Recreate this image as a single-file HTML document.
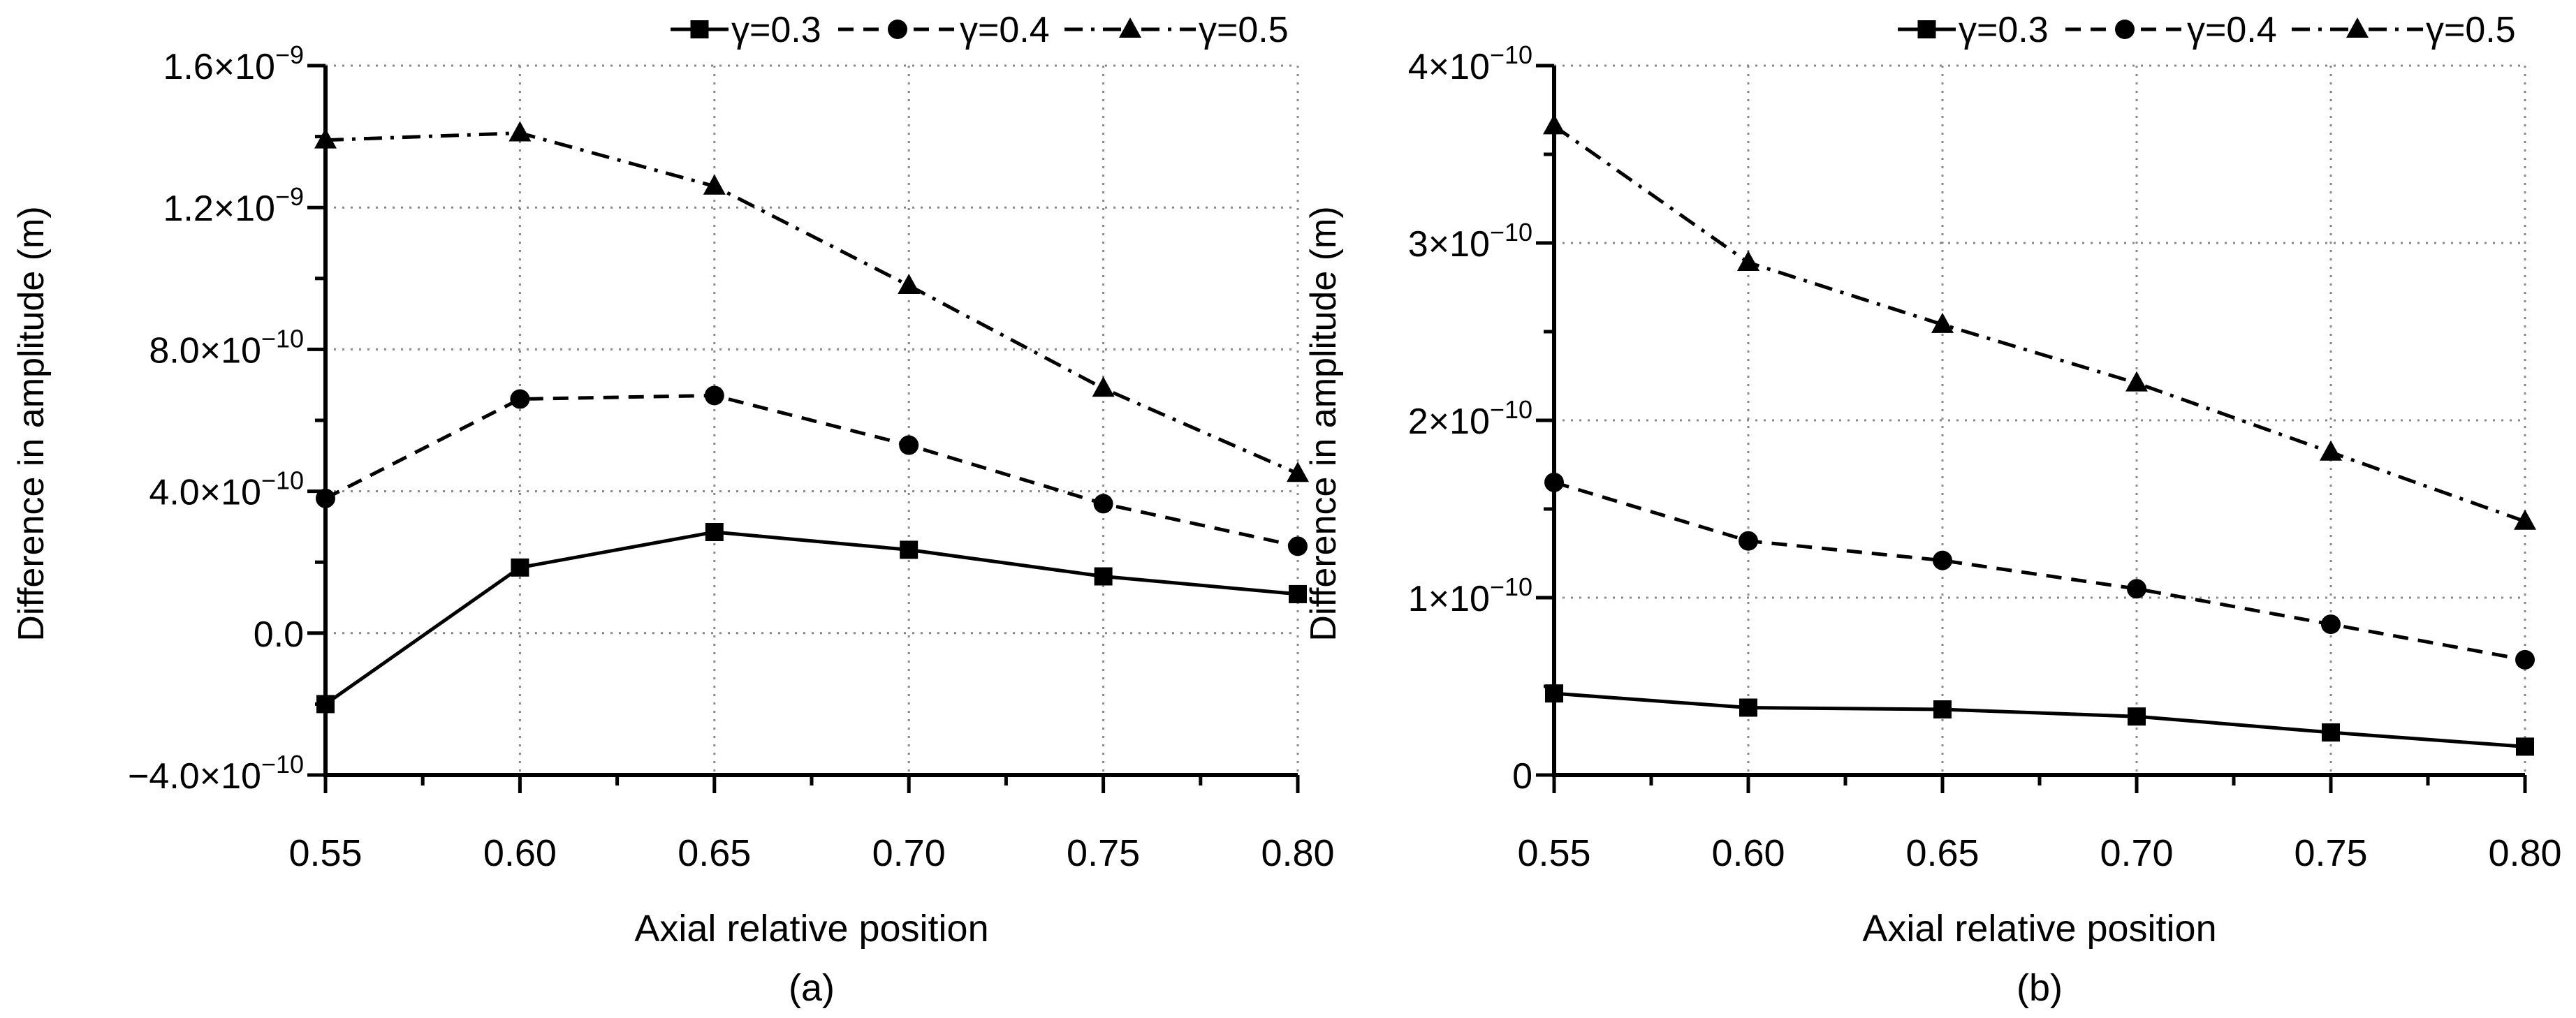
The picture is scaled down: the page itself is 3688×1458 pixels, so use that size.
<!DOCTYPE html>
<html><head><meta charset="utf-8"><style>
body{margin:0;background:#fff}
svg{display:block;font-family:"Liberation Sans",Arial,sans-serif}
</style></head><body>
<svg id="c" width="3688" height="1458" viewBox="0 0 3688 1458" xmlns="http://www.w3.org/2000/svg"></svg>
<script>
const categories=[0.55,0.60,0.65,0.70,0.75,0.80];
const xTickLabels=["0.55","0.60","0.65","0.70","0.75","0.80"];
const seriesNames=["γ=0.3","γ=0.4","γ=0.5"];
const aG03=[-2.0e-10,1.85e-10,2.85e-10,2.35e-10,1.6e-10,1.1e-10];
const aG04=[3.8e-10,6.6e-10,6.7e-10,5.3e-10,3.65e-10,2.45e-10];
const aG05=[1.39e-9,1.41e-9,1.26e-9,0.98e-9,0.69e-9,0.45e-9];
const bG03=[0.46e-10,0.38e-10,0.37e-10,0.33e-10,0.24e-10,0.16e-10];
const bG04=[1.65e-10,1.32e-10,1.21e-10,1.05e-10,0.85e-10,0.65e-10];
const bG05=[3.66e-10,2.89e-10,2.54e-10,2.21e-10,1.82e-10,1.43e-10];
const aYTicks=[-4e-10,0,4e-10,8e-10,1.2e-9,1.6e-9];
const aYLabels=[["−4.0×10","−10"],["0.0",""],["4.0×10","−10"],["8.0×10","−10"],["1.2×10","−9"],["1.6×10","−9"]];
const bYTicks=[0,1e-10,2e-10,3e-10,4e-10];
const bYLabels=[["0",""],["1×10","−10"],["2×10","−10"],["3×10","−10"],["4×10","−10"]];

const svg=document.getElementById('c');const NS="http://www.w3.org/2000/svg";
function mk(t,a,p){const e=document.createElementNS(NS,t);for(const k in a)e.setAttribute(k,a[k]);(p||svg).appendChild(e);return e;}
const dashes=["","22,14","26,12,5,12"];
function marker(g,kind,x,y){
  let m;
  if(kind===0)m=mk('rect',{x:x-13,y:y-13,width:26,height:26,fill:'#000'},g);
  else if(kind===1)m=mk('circle',{cx:x,cy:y,r:14,fill:'#000'},g);
  else m=mk('polygon',{points:`${x},${y-17} ${x+16},${y+12} ${x-16},${y+12}`,fill:'#000'},g);
  
  
}
function panel(id,L,R,T,B,yTicks,yLabels,series,tag,titleX){
  const g=mk('g',{});
  
  
  const y0=yTicks[0],y1=yTicks[yTicks.length-1];
  const xs=v=>L+(v-categories[0])/(categories[categories.length-1]-categories[0])*(R-L);
  const ys=v=>B-(v-y0)/(y1-y0)*(B-T);
  categories.forEach((c,i)=>{if(i>0){const l=mk('line',{x1:xs(c),x2:xs(c),y1:T,y2:B,stroke:'#888','stroke-width':3,'stroke-dasharray':'3,9'},g);}});
  yTicks.forEach((t,i)=>{if(i>0){const l=mk('line',{x1:L,x2:R,y1:ys(t),y2:ys(t),stroke:'#888','stroke-width':3,'stroke-dasharray':'3,9'},g);}});
  series.forEach((s,k)=>{
    const pts=s.map((v,i)=>xs(categories[i])+','+ys(v)).join(' ');
    const pl=mk('polyline',{points:pts,fill:'none',stroke:'#000','stroke-width':5,'stroke-dasharray':dashes[k]},g);
    
    
    s.forEach((v,i)=>marker(g,k,xs(categories[i]),ys(v)));
  });
  const ax=mk('path',{d:`M${L},${T} V${B} H${R}`,fill:'none',stroke:'#000','stroke-width':6},g);
  
  categories.forEach((c,i)=>{
    mk('line',{x1:xs(c),x2:xs(c),y1:B,y2:B+26,stroke:'#000','stroke-width':5},g);
    if(i<categories.length-1){const m=xs(c+0.025);mk('line',{x1:m,x2:m,y1:B,y2:B+15,stroke:'#000','stroke-width':5},g);}
    const t=mk('text',{x:xs(c),y:1240,'font-size':54,'text-anchor':'middle'},g);t.textContent=xTickLabels[i];
    
  });
  yTicks.forEach((v,i)=>{
    mk('line',{x1:L-26,x2:L,y1:ys(v),y2:ys(v),stroke:'#000','stroke-width':5},g);
    if(i<yTicks.length-1){const m=ys(v+(yTicks[1]-yTicks[0])/2);mk('line',{x1:L-15,x2:L,y1:m,y2:m,stroke:'#000','stroke-width':5},g);}
    const t=mk('text',{x:L-31,y:ys(v)+19,'font-size':52,'text-anchor':'end'},g);
    
    const a=document.createElementNS(NS,'tspan');a.textContent=yLabels[i][0];t.appendChild(a);
    if(yLabels[i][1]){const b=document.createElementNS(NS,'tspan');b.setAttribute('dy','-22');b.setAttribute('font-size','36');b.textContent=yLabels[i][1];t.appendChild(b);}
  });
  const yt=mk('text',{x:0,y:0,'font-size':52,'text-anchor':'middle',transform:`translate(${titleX},${(T+B)/2+5}) rotate(-90)`},g);
  yt.textContent='Difference in amplitude (m)';
  const xt=mk('text',{x:(L+R)/2,y:1348,'font-size':54,'text-anchor':'middle'},g);
  xt.textContent='Axial relative position';
  const tg=mk('text',{x:(L+R)/2,y:1433,'font-size':54,'text-anchor':'middle'},g);
  tg.textContent=tag;
  const lg=mk('g',{},g);
  const ls=[R-898,R-658,R-334],le=[R-815,R-488,R-146];
  seriesNames.forEach((n,k)=>{
    const e=mk('g',{},lg);
    mk('line',{x1:ls[k],x2:le[k],y1:42,y2:42,stroke:'#000','stroke-width':5,'stroke-dasharray':dashes[k]},e);
    marker(e,k,(ls[k]+le[k])/2,42);
    const t=mk('text',{x:le[k]+4,y:60,'font-size':52},e);t.textContent=n;
  });
}
panel('a',466,1858,94,1110,aYTicks,aYLabels,[aG03,aG04,aG05],'(a)',62);
panel('b',2225,3615,94,1110,bYTicks,bYLabels,[bG03,bG04,bG05],'(b)',1912);
</script>
</body></html>
